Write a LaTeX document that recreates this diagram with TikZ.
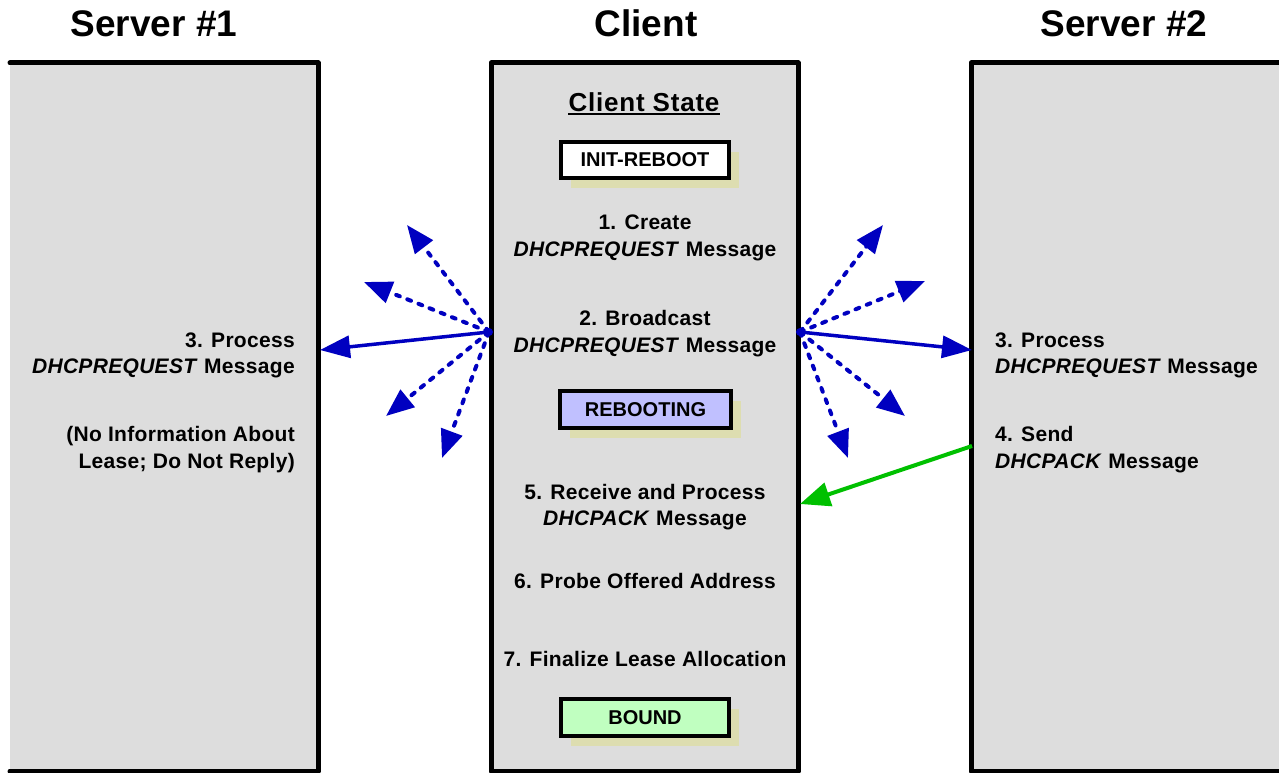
\documentclass[tikz,border=0pt]{standalone}
\usepackage{fontspec}
\setmainfont{Liberation Sans}
\newfontfamily\spaced{Liberation Sans}[LetterSpace=1.5]
\newfontfamily\spacedwide{Liberation Sans}[LetterSpace=3]
\usetikzlibrary{arrows.meta,shadows}
\definecolor{colfill}{RGB}{221,221,221}
\definecolor{shad}{RGB}{221,221,176}
\definecolor{arrblue}{RGB}{0,0,192}
\definecolor{arrgreen}{RGB}{0,192,0}
\definecolor{rebootfill}{RGB}{192,192,255}
\definecolor{boundfill}{RGB}{192,255,192}
\begin{document}
\begin{tikzpicture}[x=1pt,y=-1pt,
  col/.style={line width=5pt, line join=round, line cap=round},
  coltitle/.style={font=\fontsize{37}{40}\selectfont\bfseries, inner sep=0, anchor=base},
  txt/.style={font=\spaced\fontsize{21}{24}\selectfont\bfseries, inner sep=0, anchor=base},
  txtR/.style={txt, anchor=base east},
  txtL/.style={txt, anchor=base west},
  statebox/.style={draw, line width=4pt, inner sep=0,
    font=\fontsize{20}{22}\selectfont\bfseries,
    drop shadow={shadow xshift=10pt, shadow yshift=-10pt, fill=shad, opacity=1}},
  burst/.style={arrblue, line width=4pt, dash pattern=on 4pt off 8pt, line cap=round,
    -{Triangle[length=28pt,width=22pt]}},
  solidarr/.style={arrblue, line width=3.5pt, -{Triangle[length=30pt,width=22pt]}},
  ackarr/.style={arrgreen, line width=4pt, -{Triangle[length=30pt,width=24pt]}}
]
\useasboundingbox (0,0) rectangle (1279,773);
\fill[white] (0,0) rectangle (1279,773);

% columns
\fill[colfill] (10,63) rectangle (318,771);
\draw[col] (10,63) -- (318,63) -- (318,771) -- (10,771);
\fill[colfill] (491,63) rectangle (798,771);
\draw[col] (491,63) rectangle (798,771);
\fill[colfill] (971,63) rectangle (1279,771);
\draw[col] (1281,63) -- (971,63) -- (971,771) -- (1281,771);

% titles
\node[coltitle] (t1) at (154,37) {Server \#1};
\node[coltitle] (tc) at (646,37) {Client};
\node[coltitle] (t2) at (1124,37) {Server \#2};

% client column
\node[txt, font=\spacedwide\fontsize{26}{28}\selectfont\bfseries] (cs) at (644,112) {Client State};
\draw[line width=2pt] ([yshift=-2.5pt]cs.base west) -- ([yshift=-2.5pt]cs.base east);

\node[statebox, fill=white, minimum width=168pt, minimum height=36pt] (init) at (645,160) {INIT-REBOOT};
\node[txt] (c1a) at (645,229) {1. Create};
\node[txt] (c1b) at (645,256) {\textit{DHCPREQUEST} Message};
\node[txt] (c2a) at (645,325) {2. Broadcast};
\node[txt] (c2b) at (645,352) {\textit{DHCPREQUEST} Message};
\node[statebox, fill=rebootfill, minimum width=171pt, minimum height=37pt] (reboot) at (645.5,409.5) {REBOOTING};
\node[txt] (c5a) at (645,499) {5. Receive and Process};
\node[txt] (c5b) at (645,525) {\textit{DHCPACK} Message};
\node[txt] (c6) at (645,588) {6. Probe Offered Address};
\node[txt] (c7) at (645,666) {7. Finalize Lease Allocation};
\node[statebox, fill=boundfill, minimum width=168pt, minimum height=37pt] (bound) at (645,717.5) {BOUND};

% server 1
\node[txtR] (s1a) at (295,347) {3. Process};
\node[txtR] (s1b) at (295,373) {\textit{DHCPREQUEST} Message};
\node[txtR] (s1c) at (295,441) {(No Information About};
\node[txtR] (s1d) at (295,468) {Lease; Do Not Reply)};

% server 2
\node[txtL] (s2a) at (995,347) {3. Process};
\node[txtL] (s2b) at (995,373) {\textit{DHCPREQUEST} Message};
\node[txtL] (s2c) at (995,441) {4. Send};
\node[txtL] (s2d) at (995,468) {\textit{DHCPACK} Message};

% broadcast coordinates
\coordinate (oL) at (489,332);
\coordinate (oR) at (800,332);
\coordinate (hitL) at (320,350);
\coordinate (hitR) at (972,350);
\coordinate (dL1) at (407,225);
\coordinate (dL2) at (364,282);
\coordinate (dL3) at (386,416);
\coordinate (dL4) at (442,458);
\coordinate (dR1) at (883,225);
\coordinate (dR2) at (925,281);
\coordinate (dR3) at (905,416);
\coordinate (dR4) at (848,458);
\coordinate (ackS) at (972,446);
\coordinate (ackE) at (800,504);

\foreach \t in {dL1,dL2,dL3,dL4} \draw[burst] (oL) -- (\t);
\foreach \t in {dR1,dR2,dR3,dR4} \draw[burst] (oR) -- (\t);
\draw[solidarr] (oL) -- (hitL);
\draw[solidarr] (oR) -- (hitR);
\fill[arrblue] (oL) circle (4pt);
\fill[arrblue] (oR) circle (4pt);
\draw[ackarr] (ackS) -- (ackE);
\end{tikzpicture}
\end{document}
